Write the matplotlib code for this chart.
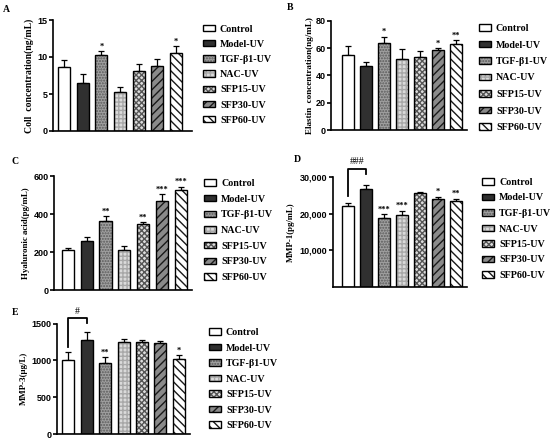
import matplotlib
matplotlib.use("Agg")
import matplotlib.pyplot as plt
from matplotlib.patches import Patch
import numpy as np

plt.rcParams['hatch.linewidth'] = 1.0

groups = ["Control", "Model-UV", "TGF-β1-UV", "NAC-UV", "SFP15-UV", "SFP30-UV", "SFP60-UV"]

coll_vals = [8.65, 6.45, 10.23, 5.31, 8.05, 8.73, 10.5]
coll_err = [1.0, 1.28, 0.55, 0.68, 1.0, 1.04, 1.0]
coll_sig = ["", "", "*", "", "", "", "*"]

elas_vals = [55.1, 46.8, 64.2, 52.0, 53.4, 58.8, 63.0]
elas_err = [6.9, 3.4, 4.4, 7.3, 4.4, 1.2, 2.7]
elas_sig = ["", "", "*", "", "", "*", "**"]

ha_vals = [212, 258, 363, 211, 346, 468, 526]
ha_err = [11, 19, 25, 22, 10, 35, 17]
ha_sig = ["", "", "**", "", "**", "***", "***"]

mmp1_vals = [22100, 26700, 18800, 19650, 25700, 24000, 23500]
mmp1_err = [900, 1100, 1100, 1150, 200, 600, 600]
mmp1_sig = ["", "", "***", "***", "", "*", "**"]

mmp3_vals = [1000, 1277, 968, 1250, 1250, 1236, 1014]
mmp3_err = [113, 105, 73, 45, 23, 23, 54]
mmp3_sig = ["", "", "**", "", "", "", "*"]

# (face, hatch, hatch colour)
styles = [
    ("white", "", "black"),
    ("#303030", "", "black"),
    ("#a0a0a0", "......", "#5a5a5a"),
    ("#dadada", "++++", "#a8a8a8"),
    ("#dddddd", "xxxxxx", "#555555"),
    ("#8a8a8a", "////", "#1a1a1a"),
    ("white", "\\\\\\\\", "#1a1a1a"),
]

W, H = 550, 440
fig = plt.figure(figsize=(W / 100, H / 100), dpi=100)

serif = "Liberation Serif"
sans = "Liberation Sans"


def add_ax(l, r, t, b):
    return fig.add_axes([l / W, 1 - b / H, (r - l) / W, (b - t) / H])


def panel(box, xlim, width, vals, err, sig, ylim, yticks, yticklabels, ylabel, ylabx, ylabfs,
          legx, legy, legsp, letter, letpos, bracket=None):
    l, r, t, b = box
    ax = add_ax(l, r, t, b)
    x = np.arange(len(vals))
    for i in range(len(vals)):
        face, hatch, hc = styles[i]
        ax.bar(x[i], vals[i], width=width, color=face, edgecolor=hc, hatch=hatch,
               linewidth=0, zorder=2)
        ax.bar(x[i], vals[i], width=width, fill=False, edgecolor="black",
               linewidth=1.0, zorder=3)
    ax.errorbar(x, vals, yerr=[np.zeros(len(vals)), err], fmt="none", ecolor="black",
                elinewidth=0.9, capsize=2.5, capthick=0.9, zorder=1)
    span = ylim[1] - ylim[0]
    for i, s in enumerate(sig):
        if s:
            ax.text(x[i], vals[i] + err[i] + span * 0.005, s, ha="center", va="bottom",
                    fontsize=6, fontweight="bold", family=serif, clip_on=False)
    ax.set_xlim(*xlim)
    ax.set_ylim(*ylim)
    ax.set_yticks(yticks)
    ax.set_yticklabels(yticklabels, fontsize=6.5, fontweight="bold", family=sans)
    ax.set_xticks([])
    for s in ["top", "right"]:
        ax.spines[s].set_visible(False)
    for s in ["left", "bottom"]:
        ax.spines[s].set_linewidth(1.2)
    ax.tick_params(axis="y", length=3, width=1.2, pad=1)
    ax.set_ylabel(ylabel, fontsize=ylabfs, fontweight="bold", family=serif)
    ax.yaxis.set_label_coords((ylabx + 4.5 - l) / (r - l), 0.5)
    if bracket is not None:
        top, lb, rb, lab = bracket
        ax.plot([x[0], x[0], x[1], x[1]], [lb, top, top, rb], color="black",
                linewidth=1.3, clip_on=False, zorder=4)
        ax.text((x[0] + x[1]) / 2, top + span * 0.02, lab, ha="center", va="bottom",
                fontsize=7, family=serif, clip_on=False)
    handles = []
    for face, hatch, hc in styles:
        h1 = Patch(facecolor=face, edgecolor=hc, hatch=hatch, linewidth=0)
        h2 = Patch(fill=False, edgecolor="black", linewidth=1.0)
        handles.append((h1, h2))
    fig.legend(handles, groups, loc="upper left",
               bbox_to_anchor=(legx / W, 1 - legy / H),
               frameon=False, prop={"family": serif, "weight": "bold", "size": 7.2},
               handlelength=1.2, handleheight=0.6, handletextpad=0.5,
               labelspacing=legsp, borderpad=0, borderaxespad=0)
    fig.text(letpos[0] / W, 1 - letpos[1] / H, letter, fontsize=7, fontweight="bold",
             family=serif, ha="center", va="center")
    return ax


# A
panel((53, 192, 20, 131), (-0.59, 6.86), 0.64, coll_vals, coll_err, coll_sig,
      (0, 15), [0, 5, 10, 15], ["0", "5", "10", "15"],
      "Coll  concentration(ng/mL)", 30, 7.0, 203, 24.5, 0.62, "A", (6, 10))
# B
panel((331, 467, 21, 130), (-0.94, 6.61), 0.67, elas_vals, elas_err, elas_sig,
      (0, 80), [0, 20, 40, 60, 80], ["0", "20", "40", "60", "80"],
      "Elastin  concentration(ng/mL)", 309, 6.6, 479, 24, 0.75, "B", (290, 7))
# C
panel((54, 192, 176, 290), (-0.74, 6.6), 0.64, ha_vals, ha_err, ha_sig,
      (0, 600), [0, 200, 400, 600], ["0", "200", "400", "600"],
      "Hyaluronic acid(pg/mL)", 26, 6.4, 204, 179, 0.67, "C", (15, 161))
# D
panel((333, 467, 177, 287), (-0.83, 6.61), 0.67, mmp1_vals, mmp1_err, mmp1_sig,
      (0, 30000), [10000, 20000, 30000], ["10,000", "20,000", "30,000"],
      "MMP-1(pg/mL)", 290, 6.3, 482, 178, 0.65, "D", (297, 160),
      bracket=(32300, 24700, 30700, "###"))
# E
panel((57, 190, 323.5, 434), (-0.61, 6.6), 0.65, mmp3_vals, mmp3_err, mmp3_sig,
      (0, 1500), [0, 500, 1000, 1500], ["0", "500", "1000", "1500"],
      "MMP-3(μg/L)", 23, 6.4, 209, 328, 0.65, "E", (15, 312),
      bracket=(1578, 1180, 1505, "#"))

fig.savefig("out.png", dpi=100)
